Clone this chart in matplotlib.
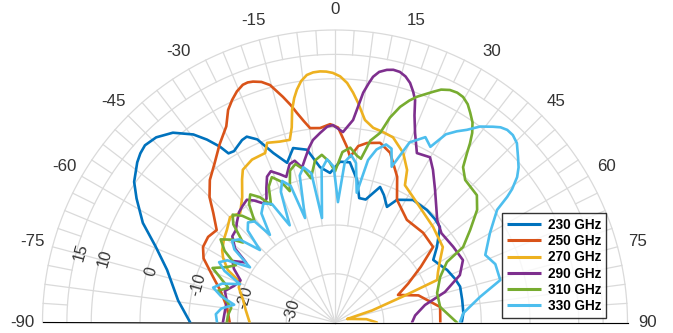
import numpy as np
import matplotlib
matplotlib.use("Agg")
import matplotlib.pyplot as plt

plt.rcParams['font.family'] = ['Liberation Sans', 'DejaVu Sans']

labels = ["230 GHz", "250 GHz", "270 GHz", "290 GHz", "310 GHz", "330 GHz"]
colors = ["#0072BD", "#D95319", "#EDB120", "#7E2F8E", "#77AC30", "#4DBEEE"]

ang_230 = [-90, -82, -72.6, -67, -62.6, -58, -55, -51, -49, -47, -44, -40.5, -37, -35, -33.2, -32.2, -30.5,
           -29, -27, -25.4, -23, -20, -16.7, -13.5, -9.2, -5.5, -1.9, 1.8, 5.3, 8.8, 11, 14, 18.4, 21, 24.2,
           26.8, 32.5, 39.3, 44, 47.7, 53.5, 57.5, 61, 64.9, 70, 74, 80, 85.8, 90]
db_230 = [-10.3, -7.5, -3.9, 0, 4.4, 8, 10.3, 12.2, 12.9, 13.3, 12.8, 11.2, 8.3, 5.8, 3.1, 1.0, 0.8,
          1.3, 2.0, 2.2, 0.8, -3, -5.8, -3.2, -4.1, -8, -9.3, -7, -7, -10.4, -14, -14, -10.7, -12, -14,
          -11.8, -10.2, -10.2, -10.5, -10.9, -14, -16.1, -15.5, -14.6, -13.8, -13.3, -13.5, -13.6, -14]

ang_250 = [-90, -81.8, -74.2, -69.5, -64, -60.2, -56, -52, -48, -45, -41.3, -37, -33, -29, -26.7, -24.8,
           -23, -21.2, -20, -18.8, -17, -15.3, -13, -11.5, -10.3, -8.8, -7.3, -4.4, -1.4, 0.9, 3.9, 5.2,
           7.5, 10.1, 14.1, 18, 23.1, 26.8, 35, 44.5, 52.4, 57, 62, 66.4, 72, 81.6, 90]
db_250 = [-18.4, -17.6, -15.5, -13.3, -10, -8.8, -8.6, -9.2, -6.4, -3.6, -1.1, 1.0, 3.5, 6, 8.8, 10.3,
          11.5, 12.3, 12.4, 12.2, 11.6, 10.5, 7.5, 5.5, 3.7, 1.8, 0.2, 0, 0.7, 0, -3.9, -5.9,
          -3.5, -2.6, -2, -3.4, -7.5, -11.8, -14.3, -14.2, -14.6, -19, -23, -25.9, -22, -18.2, -18.4]

ang_270 = [-90, -82, -76.3, -70, -66.9, -63.9, -60, -57.3, -53, -49.4, -44.9, -40.9, -36.5, -33, -31.1,
           -27, -22.4, -20.7, -17, -13.9, -12.5, -11.4, -10.3, -9.3, -8, -6.5, -5, -3.4, -2, -0.5, 1.2, 2.9,
           4.5, 6, 8.4, 11.1, 14.1, 17.4, 21.9, 25.3, 27, 31.9, 38.5, 45.7, 55, 60, 64, 67.4, 69, 72, 74,
           78, 84, 90]
db_270 = [-22.5, -21.5, -20.6, -19, -18.8, -15.5, -13.5, -12.5, -11.5, -10.8, -9.5, -10.3, -8, -5, -3.4,
          -2.5, -2.4, -0.6, -1.2, -1.4, 1, 4.5, 6.8, 8.4, 10, 11.1, 11.5, 11.6, 11.5, 11.2, 10.5, 9.2,
          7.3, 5.3, 2, 0.7, 0.3, -0.2, -2.5, -5.4, -8.4, -9.7, -11, -11.9, -13, -15.2, -16.5, -17.3, -25,
          -32, -37.4, -36.5, -33.5, -31.4]

ang_290 = [-90, -84, -79, -74, -70, -66, -62, -59, -56, -53.5, -50, -47, -44.3, -41, -38.5, -35.7, -33.5,
           -31, -29, -27, -25, -23, -20.5, -18.5, -16, -14, -12, -10.5, -8.5, -6.9, -4.5, -2.3, -0.6, 2.4,
           5.1, 7, 8, 8.8, 10, 11.6, 13, 14.5, 16, 17.4, 18.7, 19.8, 21, 22.9, 25.8, 29.9, 32.7, 37, 44.9,
           50, 57.4, 64, 69.2, 74.5, 79, 85, 90]
db_290 = [-17, -17.3, -17.4, -16.5, -18, -18.8, -16.5, -15.5, -18, -14.5, -12.5, -12.2, -11.2, -10, -9.5,
          -9, -10, -11.5, -11, -9, -7, -6.3, -7.5, -8.5, -6.2, -5.8, -7.5, -6, -3.8, -2.3, -1, 0.2, 0.5,
          -0.9, 1.7, 7.5, 9.5, 11, 12.2, 12.9, 13.2, 13.1, 12.5, 11.5, 10, 8.5, 5.5, 2.2, -1.4, -0.9,
          -2.8, -5.9, -10.3, -11.5, -11.2, -10.8, -12.6, -16.6, -21.2, -23.5, -24.2]

ang_310 = [-90, -86, -82, -78, -75, -72, -69, -66, -63, -60, -57, -54, -51, -49, -46, -43.5, -41, -38.5,
           -36, -33.5, -31, -28.5, -26, -23.5, -21, -19, -16.5, -14, -11.5, -9.5, -7, -4.5, -2, 0, 2.5, 5,
           7.5, 9, 11, 13.4, 15, 16.8, 18.5, 20, 23, 24.5, 26.3, 28, 29.6, 31.3, 32.8, 34.5, 35.9, 37,
           37.9, 39.5, 42.4, 48.1, 51.6, 55.6, 59.5, 61.6, 66.6, 73.9, 81.6, 90]
db_310 = [-17.8, -18, -18.5, -17, -15, -17, -15, -12.5, -15, -16.5, -13, -11, -13, -15, -11, -9.5, -11,
          -13.5, -10, -8.5, -10, -12.5, -9, -7.5, -9, -11.5, -7.5, -6.5, -8, -10, -6.5, -5.5, -7, -9, -5,
          -4, -5.5, -6, -2, 0, 3.5, 6.2, 8, 9.3, 11.4, 12.5, 13.2, 13.4, 13.2, 12.4, 11.2, 9.8, 8, 6,
          4.1, 1.3, -0.4, -0.9, -2.8, -6.4, -9.5, -13.9, -16.5, -18.2, -18.2, -15]

ang_330 = [-90, -86, -83, -80, -77, -74, -71, -68, -65, -62.5, -60, -57, -54, -51.5, -49, -46, -43.5, -41,
           -38.5, -36.6, -34, -31, -28, -25, -22.5, -20.5, -18, -16, -13.5, -11.5, -9, -7.1, -5, -2.8, -0.5,
           1.4, 3.5, 5.5, 7.5, 9.5, 11.5, 13.5, 16, 18, 20, 22.5, 26, 28.5, 30.5, 32.5, 34.4, 36.5, 38.9,
           40.3, 41.8, 43.5, 45.4, 47.9, 49.8, 51.4, 53, 53.9, 55.2, 60, 65.8, 70, 75.6, 80, 85.8, 90]
db_330 = [-15.8, -15.5, -16.5, -19, -16, -14, -15.5, -19, -15, -13.2, -14.5, -19.2, -14.5, -13, -14, -18.6,
          -14, -12.8, -13.5, -17.6, -13, -11.5, -12.5, -18, -11, -9, -10.5, -17.7, -9, -7.5, -9, -18.4,
          -8.5, -6.5, -8, -15.3, -7, -5.5, -7, -13, -6, -3.5, -2, -2.5, -6, 0, 2.3, 1, 4.8, 6.5, 7.9, 10,
          11.6, 12.5, 13, 13, 12.4, 10.6, 9.3, 7.8, 5.5, 3.7, 0.5, -3.3, -6.2, -5, -5, -9.8, -13.6, -14.4]

series_ang = [ang_230, ang_250, ang_270, ang_290, ang_310, ang_330]
series_db = [db_230, db_250, db_270, db_290, db_310, db_330]

ring_values = [-30, -20, -10, 0, 10, 15, 20]
ring_labels = ["-30", "-20", "-10", "0", "10", "15"]
angle_ticks = [-90, -75, -60, -45, -30, -15, 0, 15, 30, 45, 60, 75, 90]

RMIN, RMAX = -40, 20
W, H = 673, 333
fig = plt.figure(figsize=(W / 100, H / 100), dpi=100)
cx, cy, R = 335, 322.5, 292.5
S = 2 * R
# square box; the half-disc wedge is centred in it, so the pole sits S/4 above the box bottom
ax = fig.add_axes([(cx - R) / W, ((H - cy) - S / 4) / H, S / W, S / H], projection='polar')
ax.set_theta_zero_location('N')
ax.set_theta_direction(-1)
ax.set_thetamin(-90)
ax.set_thetamax(90)
ax.set_rlim(RMIN, RMAX)
ax.grid(False)
ax.set_xticks([])
ax.set_yticks([])
for sp in ax.spines.values():
    sp.set_visible(False)
ax.patch.set_visible(False)

gcol = '#DADADA'
glw = 0.9
tt = np.deg2rad(np.linspace(-90, 90, 361))
for rv in ring_values:
    ax.plot(tt, np.full_like(tt, rv), color=gcol, lw=glw, zorder=0, clip_on=False)
for a in np.arange(-90, 90.01, 3.75):
    t = np.deg2rad(a)
    if abs(a % 15) < 1e-6:
        r0 = RMIN
    elif abs(a % 7.5) < 1e-6:
        r0 = -20
    else:
        r0 = 15
    ax.plot([t, t], [r0, RMAX], color=gcol, lw=glw, zorder=0, clip_on=False)

for a in angle_ticks:
    ax.text(np.deg2rad(a), 24.2, f"{a}", ha='center', va='center', fontsize=12.2,
            color='#333333', clip_on=False)

for rv, lab in zip(ring_values[:-1], ring_labels):
    ax.text(np.deg2rad(-74.5), rv - 0.9, lab, ha='center', va='center', fontsize=11.5,
            rotation=74.5, rotation_mode='anchor', color='#333333')

for a, d, c, lab in zip(series_ang, series_db, colors, labels):
    ax.plot(np.deg2rad(a), d, color=c, lw=1.9, label=lab, zorder=3,
            solid_joinstyle='round', solid_capstyle='round')

leg = fig.legend(loc='lower left', bbox_to_anchor=(502 / W, (H - 318) / H), frameon=True,
                 fancybox=False, edgecolor='black', handlelength=2.5,
                 labelspacing=0.17, borderpad=0.35, handletextpad=0.5, borderaxespad=0,
                 prop={'weight': 'bold', 'size': 9.8})
leg.get_frame().set_linewidth(1.0)
for line in leg.get_lines():
    line.set_linewidth(2.2)
    line.set_solid_capstyle('butt')

fig.savefig("out.png", dpi=100)
